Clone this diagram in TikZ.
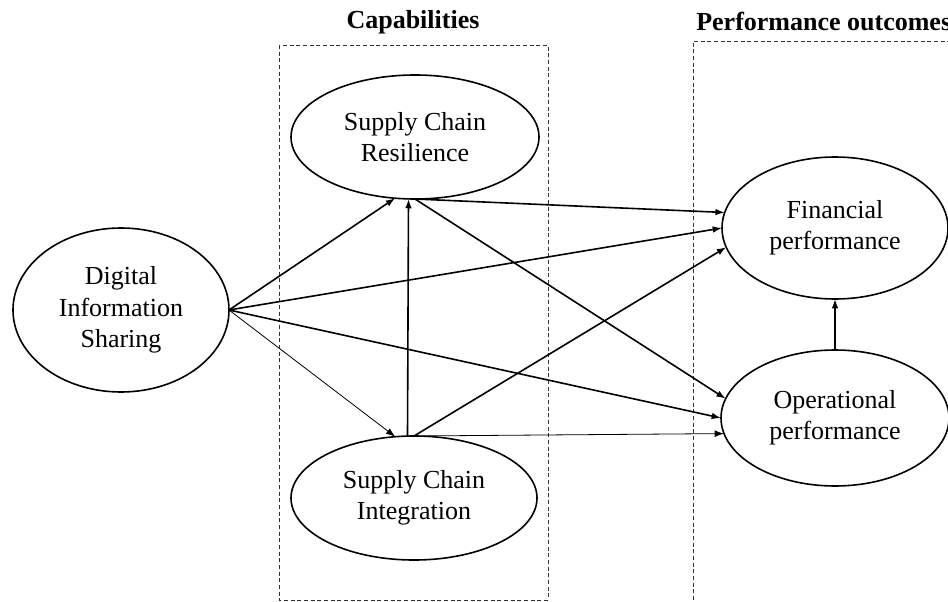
\documentclass[tikz,border=0pt]{standalone}
\usepackage{fontspec}
\setmainfont{Liberation Serif}
\usetikzlibrary{shapes.geometric,arrows.meta}

\tikzset{
  construct/.style={ellipse, draw, line width=1.2pt, inner sep=0pt, outer sep=0pt,
    align=center, font=\fontsize{19.5pt}{23.6pt}\selectfont},
  grouptitle/.style={font=\fontsize{19.5pt}{23.6pt}\selectfont\bfseries, inner sep=0pt},
  groupbox/.style={draw=black!80, line width=0.6pt, dash pattern=on 3pt off 2pt},
  path/.style={line width=1.2pt, -{Latex[length=7pt,width=5pt]}},
  weakpath/.style={line width=0.6pt, -{Latex[length=7pt,width=5pt]}}
}

\begin{document}
\begin{tikzpicture}[x=0.75pt, y=-0.75pt]
  % canvas
  \clip (0,0) rectangle (948,602);

  % groups
  \draw[groupbox] (279,45) rectangle (548,600);
  \draw[groupbox] (693,660) -- (693,41) -- (1000,41);
  \node[grouptitle] (captitle) at (413,22) {Capabilities};
  \node[grouptitle, anchor=west] (perftitle) at (696,22) {Performance outcomes};

  % constructs
  \node[construct, minimum width=162pt, minimum height=123pt] (dis) at (121,310)
    {Digital\\Information\\Sharing};
  \node[construct, minimum width=186pt, minimum height=93pt] (scr) at (415,137)
    {Supply Chain\\Resilience};
  \node[construct, minimum width=184.5pt, minimum height=93pt] (sci) at (414,498)
    {Supply Chain\\Integration};
  \node[construct, minimum width=169.5pt, minimum height=106.5pt] (fp) at (835,228)
    {Financial\\performance};
  \node[construct, minimum width=171pt, minimum height=102pt] (op) at (835,418)
    {Operational\\performance};

  % paths from digital information sharing
  \draw[path] (dis.east) -- (scr.252);
  \draw[weakpath] (dis.east) -- (sci.107);
  \draw[path] (dis.east) -- (fp.180);
  \draw[path] (dis.east) -- (op.180);

  % paths between capabilities
  \draw[path] (sci.96) -- (scr.264);

  % paths from capabilities to outcomes
  \draw[path] (scr.south) -- (fp.172);
  \draw[path] (scr.south) -- (op.170);
  \draw[path] (sci.north) -- (fp.190);
  \draw[weakpath] (sci.north) -- (op.188);

  % operational to financial
  \draw[path] (op.north) -- (fp.south);
\end{tikzpicture}
\end{document}
